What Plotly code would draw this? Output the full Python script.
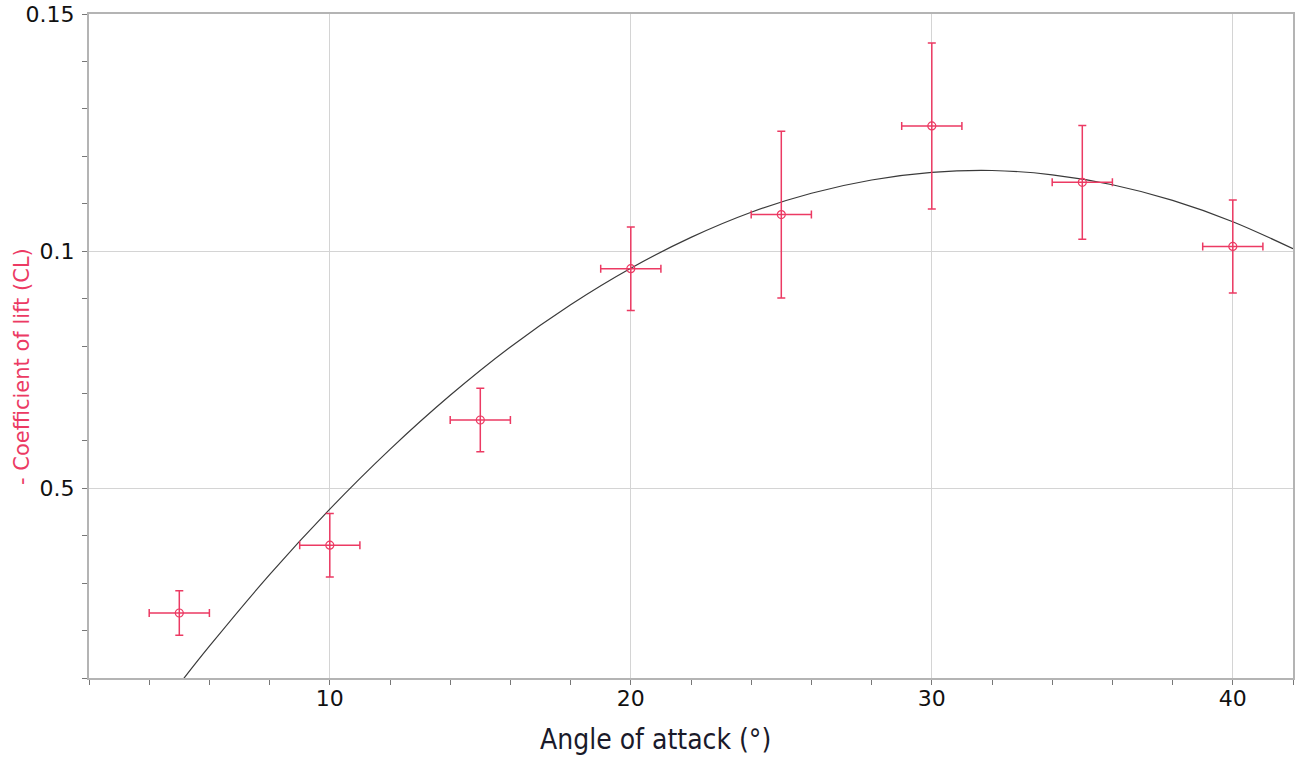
import plotly.graph_objects as go

# Measured data points
angle = [5, 10, 15, 20, 25, 30, 35, 40]
angle_err = [1, 1, 1, 1, 1, 1, 1, 1]
cl = [0.0237, 0.0380, 0.0644, 0.0963, 0.1077, 0.1264, 0.1145, 0.1010]
cl_err = [0.0047, 0.0067, 0.0067, 0.0088, 0.0176, 0.0175, 0.0120, 0.0098]

# Fitted curve
fit_angle = [5, 6, 8, 10, 12, 14, 16, 18, 20, 22, 24, 26, 28, 30, 32, 34, 36, 38, 40, 42]
fit_cl = [0.0087, 0.0167, 0.0318, 0.0456, 0.0582, 0.0696, 0.0798, 0.0887, 0.0964,
          0.1029, 0.1082, 0.1122, 0.1150, 0.1166, 0.1170, 0.1161, 0.1140, 0.1107,
          0.1062, 0.1005]

y_tickvals = [0.05, 0.1, 0.15]
y_ticktext = ["0.5", "0.1", "0.15"]
x_tickvals = [10, 20, 30, 40]
x_ticktext = ["10", "20", "30", "40"]

pink = "#ec3a63"

fig = go.Figure()
fig.add_trace(go.Scatter(
    x=fit_angle, y=fit_cl, mode="lines",
    line=dict(color="#3a3a3a", width=1.2, shape="spline"),
    hoverinfo="skip", showlegend=False,
))
fig.add_trace(go.Scatter(
    x=angle, y=cl, mode="markers",
    marker=dict(symbol="circle-open", size=8, color=pink, line=dict(width=1.2, color=pink)),
    error_y=dict(type="data", array=cl_err, color=pink, thickness=1.5, width=4),
    error_x=dict(type="data", array=angle_err, color=pink, thickness=1.5, width=4),
    showlegend=False,
))

fig.update_layout(
    width=1298, height=760,
    margin=dict(l=89, r=5, t=14, b=82),
    paper_bgcolor="white", plot_bgcolor="white",
    font=dict(family="DejaVu Sans", color="#111111"),
    xaxis=dict(
        range=[2, 42], tickvals=x_tickvals, ticktext=x_ticktext,
        showline=True, linecolor="#b4b4b4", linewidth=2, mirror=True,
        showgrid=True, gridcolor="#d4d4d4", gridwidth=1,
        ticks="outside", ticklen=5, tickcolor="#777777", tickwidth=1,
        tickfont=dict(size=22, family="DejaVu Sans", color="#111111"),
        ticklabelstandoff=-5,
        minor=dict(tick0=0, dtick=2, ticks="outside", ticklen=5, tickcolor="#777777", showgrid=False),
        zeroline=False, automargin=False,
    ),
    yaxis=dict(
        range=[0.01, 0.15], tickvals=y_tickvals, ticktext=y_ticktext,
        showline=True, linecolor="#b4b4b4", linewidth=2, mirror=True,
        showgrid=True, gridcolor="#d4d4d4", gridwidth=1,
        ticks="outside", ticklen=5, tickcolor="#777777", tickwidth=1,
        tickfont=dict(size=22, family="DejaVu Sans", color="#111111"),
        ticklabelstandoff=3,
        minor=dict(tick0=0, dtick=0.01, ticks="outside", ticklen=5, tickcolor="#777777", showgrid=False),
        zeroline=False, automargin=False,
    ),
    annotations=[
        dict(text="Angle of attack (°)", x=655, y=739, xref="paper", yref="paper",
             showarrow=False,
             font=dict(family="DejaVu Sans Condensed, Liberation Sans Narrow, Liberation Sans",
                       size=28, color="#1a1a2a")),
        dict(text="- Coefficient of lift (CL)", x=22, y=367, xref="paper", yref="paper",
             showarrow=False, textangle=-90, font=dict(family="DejaVu Sans", size=21, color=pink)),
    ],
)

# convert pixel positions for annotations to paper coordinates
pw = 1298 - 89 - 5
ph = 760 - 14 - 82
for ann in fig.layout.annotations:
    px, py = ann.x, ann.y
    ann.x = (px - 89) / pw
    ann.y = (760 - 82 - py) / ph
    ann.xanchor = "center"
    ann.yanchor = "middle"

fig.write_html("out.html", config={"displayModeBar": False},
               post_script="document.body.style.margin='0';")
